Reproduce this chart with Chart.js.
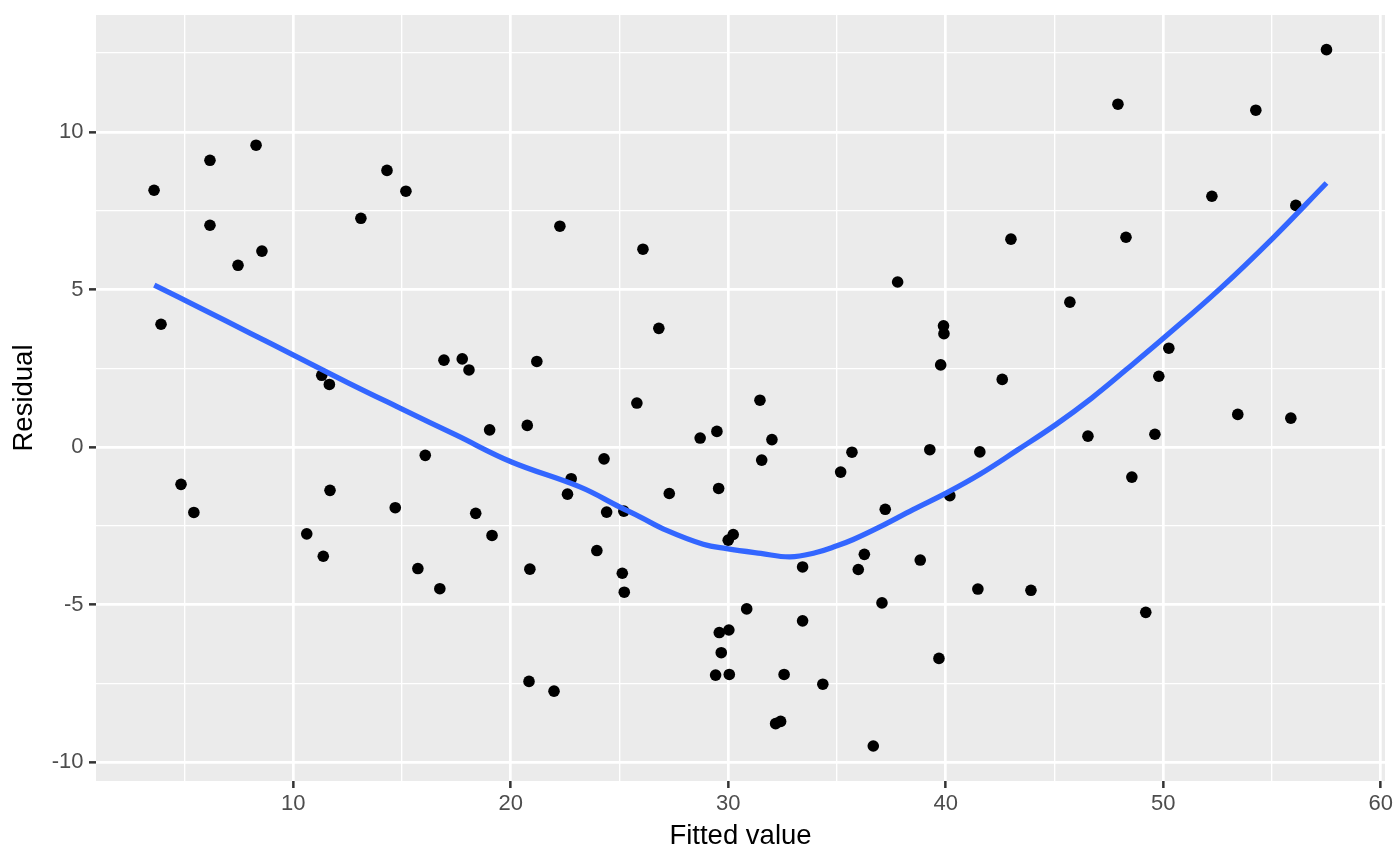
<!DOCTYPE html>
<html>
<head>
<meta charset="utf-8">
<script src="https://cdn.jsdelivr.net/npm/chart.js@4"></script>
<style>
  html, body { margin: 0; padding: 0; background: #ffffff; }
  #wrap { width: 1400px; height: 865px; }
</style>
</head>
<body>
<div id="wrap"><canvas id="c" width="1400" height="865"></canvas></div>
<script>
// ---- Data ----
const fittedValues = [
  3.60, 3.92, 4.84, 5.43, 6.17, 6.17, 7.46, 8.29, 8.56, 10.62,
  11.31, 11.38, 11.66, 11.69, 13.11, 14.31, 14.69, 15.18, 15.73, 16.07,
  16.74, 16.93, 17.77, 18.08, 18.39, 19.03, 19.14, 20.76, 20.84, 20.88,
  21.20, 21.99, 22.26, 22.61, 22.78, 23.96, 24.29, 24.41, 25.13, 25.22,
  25.20, 25.80, 26.08, 26.81, 27.29, 28.71, 29.42, 29.48, 29.56, 29.59,
  29.68, 30.00, 30.03, 30.05, 30.23, 30.85, 31.46, 31.54, 32.01, 32.18,
  32.41, 32.57, 33.42, 33.42, 34.35, 35.17, 35.69, 35.98, 36.26, 36.67,
  37.07, 37.22, 37.79, 38.83, 39.27, 39.69, 39.77, 39.90, 39.92, 40.19,
  41.48, 41.57, 42.60, 43.00, 43.92, 45.71, 46.54, 47.92, 48.29, 48.56,
  49.20, 49.62, 49.80, 50.26, 52.24, 53.43, 54.26, 55.87, 56.10, 57.51
];
const residuals = [
  8.15, 3.90, -1.18, -2.07, 9.10, 7.04, 5.77, 9.58, 6.22, -2.75,
  2.28, -3.46, 1.99, -1.37, 7.26, 8.78, -1.92, 8.12, -3.85, -0.26,
  -4.49, 2.76, 2.80, 2.45, -2.10, 0.55, -2.80, 0.69, -7.43, -3.87,
  2.72, -7.74, 7.01, -1.49, -1.00, -3.28, -0.37, -2.06, -4.00, -4.60,
  -2.03, 1.40, 6.28, 3.77, -1.47, 0.29, -7.23, 0.50, -1.31, -5.88,
  -6.52, -2.95, -5.80, -7.21, -2.77, -5.13, 1.49, -0.41, 0.24, -8.77,
  -8.70, -7.21, -3.80, -5.51, -7.52, -0.79, -0.16, -3.88, -3.40, -9.48,
  -4.94, -1.97, 5.24, -3.58, -0.08, -6.70, 2.61, 3.85, 3.60, -1.54,
  -4.50, -0.15, 2.15, 6.60, -4.54, 4.60, 0.35, 10.88, 6.66, -0.95,
  -5.24, 0.41, 2.25, 3.14, 7.96, 1.04, 10.69, 0.92, 7.67, 12.61
];
// loess smooth curve
const smoothX = [3.61, 5.71, 8.01, 9.99, 12.5, 15.03, 17.5, 20.04, 23.18, 25.02,
  25.94, 27.17, 28.85, 29.93, 31.5, 32.84, 34.0, 35.0, 35.75, 36.97,
  38.5, 40.04, 41.57, 43.3, 45.07, 46.7, 48.32, 50.09, 52.62, 55.07, 57.51];
const smoothY = [5.14, 4.42, 3.62, 2.93, 2.05, 1.20, 0.38, -0.47, -1.26, -1.90,
  -2.21, -2.64, -3.08, -3.22, -3.37, -3.48, -3.35, -3.13, -2.93, -2.53,
  -1.98, -1.45, -0.86, -0.09, 0.72, 1.55, 2.47, 3.50, 5.03, 6.65, 8.38];

const xTickLabels = [10, 20, 30, 40, 50, 60];
const xMinorTicks = [5, 15, 25, 35, 45, 55];
const yTickLabels = [-10, -5, 0, 5, 10];
const yMinorTicks = [-7.5, -2.5, 2.5, 7.5, 12.5];

const xTitle = 'Fitted value';
const yTitle = 'Residual';

// ---- Build ----
const pointData = fittedValues.map((x, i) => ({ x: x, y: residuals[i] }));
const lineData = smoothX.map((x, i) => ({ x: x, y: smoothY[i] }));

const FONT = '"Liberation Sans", Arial, Helvetica, sans-serif';
const MAJOR_W = 2.7, MINOR_W = 1.35;

const panelBg = {
  id: 'panelBg',
  beforeDraw(chart) {
    const { ctx, chartArea: a } = chart;
    ctx.save();
    ctx.fillStyle = '#ffffff';
    ctx.fillRect(0, 0, chart.width, chart.height);
    ctx.fillStyle = '#EBEBEB';
    ctx.fillRect(a.left, a.top, a.right - a.left, a.bottom - a.top);
    ctx.restore();
  }
};

function allTicks(majors, minors) {
  return majors.concat(minors).sort((a, b) => a - b).map(v => ({ value: v }));
}

function axisOpts(majors, minors, min, max, title, isX) {
  return {
    type: 'linear',
    min: min,
    max: max,
    afterBuildTicks: (scale) => { scale.ticks = allTicks(majors, minors); },
    afterFit: (scale) => {
      if (isX) { scale.height = 84; scale.paddingLeft = 0; scale.paddingRight = 0; }
      else { scale.width = 96; scale.paddingTop = 0; scale.paddingBottom = 0; }
    },
    border: { display: false },
    grid: {
      color: '#ffffff',
      lineWidth: (c) => (c.tick && majors.includes(c.tick.value)) ? MAJOR_W : MINOR_W,
      drawTicks: true,
      tickLength: 7,
      tickWidth: 2.5,
      tickColor: (c) => (c.tick && majors.includes(c.tick.value)) ? '#333333' : 'rgba(0,0,0,0)'
    },
    ticks: {
      autoSkip: false,
      maxRotation: 0,
      minRotation: 0,
      padding: isX ? 3 : 5.5,
      color: '#4D4D4D',
      font: { family: FONT, size: 22 },
      callback: (v) => majors.includes(v) ? String(v) : ''
    },
    title: {
      display: true,
      text: title,
      color: '#000000',
      font: { family: FONT, size: 27.5 },
      padding: isX ? { top: 0, bottom: 12 } : { top: 8, bottom: 0 }
    }
  };
}

new Chart(document.getElementById('c'), {
  type: 'scatter',
  data: {
    datasets: [
      {
        type: 'line',
        label: 'smooth',
        data: lineData,
        borderColor: '#3366FF',
        borderWidth: 5.3,
        pointRadius: 0,
        fill: false,
        tension: 0.4,
        order: 0
      },
      {
        type: 'scatter',
        label: 'points',
        data: pointData,
        backgroundColor: '#000000',
        borderWidth: 0,
        pointRadius: 5.8,
        pointHoverRadius: 5.8,
        order: 1
      }
    ]
  },
  options: {
    responsive: false,
    animation: false,
    devicePixelRatio: 1,
    events: [],
    layout: { padding: { top: 15, right: 15, left: 0, bottom: 0 } },
    plugins: { legend: { display: false }, tooltip: { enabled: false } },
    scales: {
      x: axisOpts(xTickLabels, xMinorTicks, 0.93, 60.2, xTitle, true),
      y: axisOpts(yTickLabels, yMinorTicks, -10.59, 13.71, yTitle, false)
    }
  },
  plugins: [panelBg]
});
</script>
</body>
</html>
